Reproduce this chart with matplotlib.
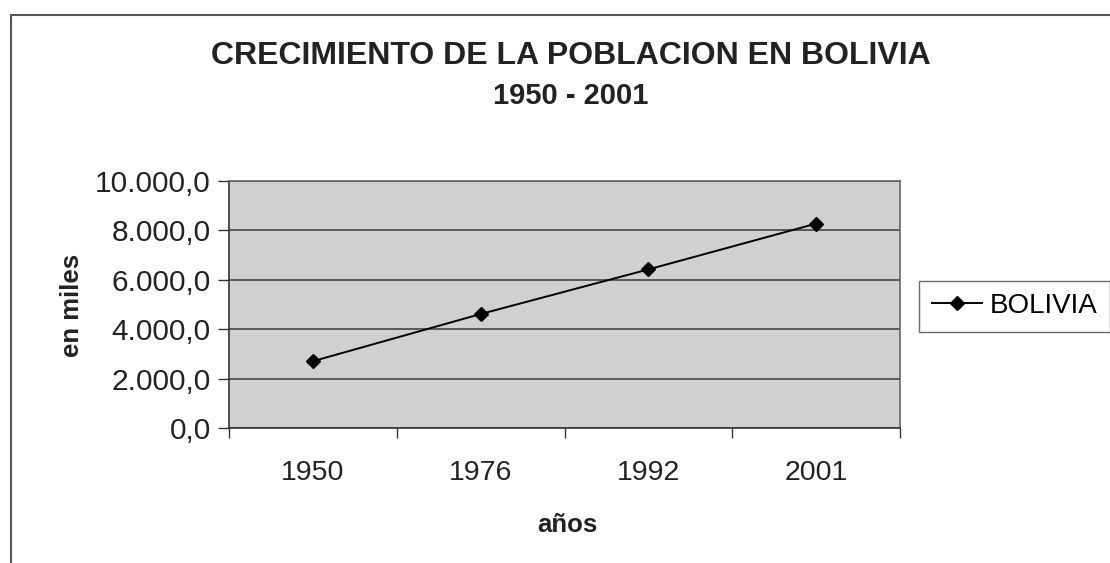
import matplotlib.pyplot as plt
from matplotlib.patches import Rectangle
from matplotlib.ticker import FuncFormatter, FixedLocator

plt.rcParams['font.family'] = ['Liberation Sans', 'DejaVu Sans']

# data (poblacion en miles)
years = ["1950", "1976", "1992", "2001"]
population = [2704.2, 4613.5, 6420.8, 8274.3]
y_ticks = [0, 2000, 4000, 6000, 8000, 10000]


def es_fmt(v, pos=None):
    s = "{:,.1f}".format(v)
    return s.replace(",", "X").replace(".", ",").replace("X", ".")


fig = plt.figure(figsize=(11.1, 5.63), dpi=100)
# chart border, runs off the right and bottom edges like the scan
fig.patches.append(Rectangle((11 / 1110, -0.1), 1.2, 1.1 - 15 / 563,
                             transform=fig.transFigure, fill=False,
                             edgecolor='#555555', linewidth=1.5))

ax = fig.add_axes([229 / 1110, 135 / 563, 671 / 1110, 247 / 563])
ax.set_facecolor('#d0d0d0')

x = list(range(len(years)))
ax.plot(x, population, color='black', linewidth=1.4, marker='D',
        markersize=7.5, label='BOLIVIA')

ax.set_xlim(-0.5, len(years) - 0.5)
ax.set_ylim(0, 10000)
ax.set_yticks(y_ticks)
ax.yaxis.set_major_formatter(FuncFormatter(es_fmt))
ax.yaxis.grid(True, color='#3a3a3a', linewidth=1.1)
ax.set_axisbelow(True)

# category boundaries get tick marks, labels sit in the middle
ax.xaxis.set_major_locator(FixedLocator([i - 0.5 for i in range(len(years) + 1)]))
ax.xaxis.set_major_formatter(FuncFormatter(lambda v, p: ""))
ax.xaxis.set_minor_locator(FixedLocator(x))
ax.set_xticklabels(years, minor=True)
ax.tick_params(axis='x', which='minor', length=0, pad=23, labelsize=20.5,
               labelcolor='#222222')
ax.tick_params(axis='x', which='major', length=7, width=1, color='#333333')
ax.tick_params(axis='y', length=8, width=1, color='#333333', pad=5,
               labelsize=21.5, labelcolor='#222222')

for side in ['top', 'right']:
    ax.spines[side].set_color('#666666')
    ax.spines[side].set_linewidth(1.2)
for side in ['left', 'bottom']:
    ax.spines[side].set_color('#333333')
    ax.spines[side].set_linewidth(1.2)

fig.text(571 / 1110, 1 - 56 / 563, "CRECIMIENTO DE LA POBLACION EN BOLIVIA",
         ha='center', va='center', fontsize=23, fontweight='bold', color='#222222')
fig.text(571 / 1110, 1 - 96 / 563, "1950 - 2001",
         ha='center', va='center', fontsize=21, fontweight='bold', color='#222222')
fig.text(567 / 1110, 1 - 525 / 563, "años", ha='center', va='center',
         fontsize=18.5, fontweight='bold', color='#222222')
fig.text(72 / 1110, 1 - 305 / 563, "en miles", ha='center', va='center',
         rotation=90, fontsize=18.5, fontweight='bold', color='#222222')

leg = fig.legend(loc='center left', bbox_to_anchor=(919 / 1110, 1 - 306 / 563),
                 fontsize=20, frameon=True, fancybox=False, borderaxespad=0,
                 handlelength=1.8, handletextpad=0.3, borderpad=0.45)
leg.get_frame().set_edgecolor('#444444')
leg.get_frame().set_linewidth(1.0)

fig.savefig("out.png", dpi=100)
